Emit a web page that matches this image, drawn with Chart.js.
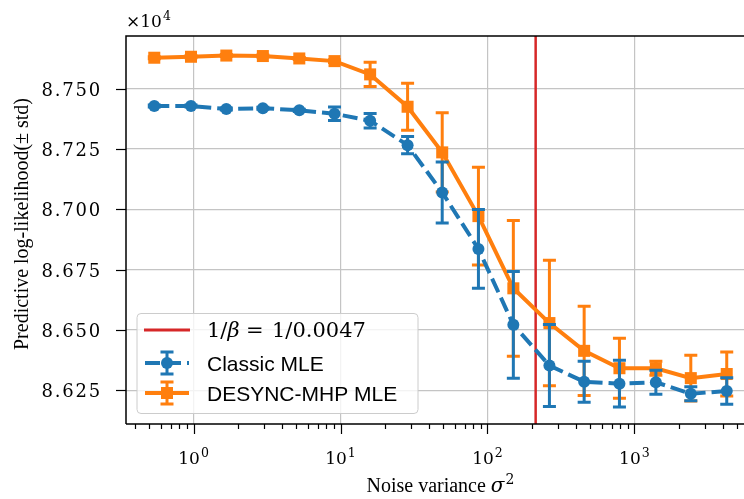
<!DOCTYPE html>
<html>
<head>
<meta charset="utf-8">
<script src="https://cdn.jsdelivr.net/npm/chart.js@4.4.1/dist/chart.umd.min.js"></script>
<style>
  html, body { margin: 0; padding: 0; background: #fff; }
  #wrap { width: 744px; height: 499px; }
</style>
</head>
<body>
<div id="wrap"><canvas id="chart" width="744" height="499"></canvas></div>
<script>
// Noise variance sweep and predictive log-likelihood (mean / std) for both estimators
const noiseVar = [0.54, 0.96, 1.67, 2.96, 5.24, 9.1, 15.9, 28.6, 49.2, 86.8, 150, 264, 455, 791, 1400, 2420, 4250];
const classicMean = [87428, 87428, 87416, 87419, 87410, 87396, 87367, 87266, 87070, 86836, 86522, 86353, 86286, 86278, 86284, 86236, 86248];
const classicStd = [4, 4, 4, 4, 5, 28, 30, 36, 126, 163, 221, 170, 85, 97, 50, 29, 55];
const desyncMean = [87628, 87632, 87637, 87635, 87625, 87614, 87559, 87425, 87236, 86972, 86673, 86529, 86414, 86342, 86342, 86301, 86318];
const desyncStd = [4, 4, 4, 4, 4, 6, 50, 97, 164, 202, 281, 260, 185, 124, 29, 95, 91];

const yTicks = [86250, 86500, 86750, 87000, 87250, 87500];
const xMajor = [1, 10, 100, 1000];
const xMajorExp = ['0', '1', '2', '3'];
const betaLine = 1 / 0.0047;

const BLUE = '#1f77b4';
const ORANGE = '#ff7f0e';
const RED = '#d62728';
const GRID = '#c4c4c4';

const SERIF = '"DejaVu Serif", serif';
const TIMES = '"Liberation Serif", serif';
const SANS = '"Liberation Sans", Arial, sans-serif';

function drawErrorBars(chart, idx) {
  const ds = chart.data.datasets[idx];
  const ctx = chart.ctx;
  const xs = chart.scales.x, ys = chart.scales.y;
  ctx.save();
  ctx.strokeStyle = ds.borderColor;
  ctx.lineWidth = 3;
  ds.data.forEach((p, i) => {
    const px = xs.getPixelForValue(p.x);
    const top = ys.getPixelForValue(p.y + ds.errors[i]);
    const bot = ys.getPixelForValue(p.y - ds.errors[i]);
    ctx.beginPath();
    ctx.moveTo(px, top); ctx.lineTo(px, bot);
    ctx.moveTo(px - 6.5, top); ctx.lineTo(px + 6.5, top);
    ctx.moveTo(px - 6.5, bot); ctx.lineTo(px + 6.5, bot);
    ctx.stroke();
  });
  ctx.restore();
}

// small helper for "base^exp" labels
function drawPow(ctx, base, exp, cx, baseline, size, supSize) {
  ctx.font = size + 'px ' + SERIF;
  const wb = ctx.measureText(base).width;
  ctx.font = supSize + 'px ' + SERIF;
  const we = ctx.measureText(exp).width;
  const x0 = cx - (wb + 1 + we) / 2;
  ctx.textAlign = 'left';
  ctx.font = size + 'px ' + SERIF;
  ctx.fillText(base, x0, baseline);
  ctx.font = supSize + 'px ' + SERIF;
  ctx.fillText(exp, x0 + wb + 1, baseline - 7);
}

function legendMarker(ctx, x, y, color, dashed, square) {
  ctx.save();
  ctx.strokeStyle = color;
  ctx.fillStyle = color;
  ctx.lineWidth = 4;
  if (dashed) ctx.setLineDash([15, 6]);
  ctx.beginPath();
  ctx.moveTo(145, y); ctx.lineTo(189, y);
  ctx.stroke();
  ctx.setLineDash([]);
  ctx.lineWidth = 3;
  ctx.beginPath();
  ctx.moveTo(x, y - 11); ctx.lineTo(x, y + 11);
  ctx.moveTo(x - 6.5, y - 11); ctx.lineTo(x + 6.5, y - 11);
  ctx.moveTo(x - 6.5, y + 11); ctx.lineTo(x + 6.5, y + 11);
  ctx.stroke();
  if (square) {
    ctx.fillRect(x - 6, y - 6, 12, 12);
  } else {
    ctx.beginPath(); ctx.arc(x, y, 6, 0, Math.PI * 2); ctx.fill();
  }
  ctx.restore();
}

const decor = {
  id: 'decor',
  beforeDatasetsDraw(chart) {
    const ctx = chart.ctx, a = chart.chartArea;
    const px = chart.scales.x.getPixelForValue(betaLine);
    ctx.save();
    ctx.strokeStyle = RED;
    ctx.lineWidth = 2.5;
    ctx.beginPath();
    ctx.moveTo(px, a.top); ctx.lineTo(px, a.bottom);
    ctx.stroke();
    ctx.restore();
  },
  beforeDatasetDraw(chart, args) {
    drawErrorBars(chart, args.index);
  },
  afterDraw(chart) {
    const ctx = chart.ctx, a = chart.chartArea;
    const xs = chart.scales.x, ys = chart.scales.y;
    ctx.save();
    ctx.fillStyle = '#000';
    ctx.strokeStyle = '#000';

    // spines
    ctx.lineWidth = 1.5;
    ctx.beginPath();
    ctx.moveTo(a.left, a.bottom); ctx.lineTo(a.left, a.top); ctx.lineTo(a.right, a.top);
    ctx.moveTo(a.left, a.bottom); ctx.lineTo(a.right, a.bottom);
    ctx.stroke();

    // y ticks + labels
    ctx.lineWidth = 1.2;
    ctx.font = '18px ' + SERIF;
    ctx.textAlign = 'right';
    ctx.textBaseline = 'alphabetic';
    ctx.letterSpacing = '1.8px';
    yTicks.forEach(v => {
      const py = Math.round(ys.getPixelForValue(v)) + 0.5;
      ctx.beginPath(); ctx.moveTo(a.left - 10, py); ctx.lineTo(a.left, py); ctx.stroke();
      ctx.fillText((v / 1e4).toFixed(3), 102, py + 6.5);
    });
    ctx.letterSpacing = '0px';

    // x ticks: majors + minors
    const lo = Math.floor(Math.log10(xs.min)), hi = Math.ceil(Math.log10(xs.max));
    for (let e = lo; e <= hi; e++) {
      for (let m = 1; m <= 9; m++) {
        const v = m * Math.pow(10, e);
        if (v < xs.min || v > xs.max) continue;
        const px = Math.round(xs.getPixelForValue(v)) + 0.5;
        const len = m === 1 ? 10 : 5;
        ctx.beginPath(); ctx.moveTo(px, a.bottom); ctx.lineTo(px, a.bottom + len); ctx.stroke();
      }
    }
    xMajor.forEach((v, i) => {
      drawPow(ctx, '10', xMajorExp[i], xs.getPixelForValue(v), 464, 17, 12.5);
    });

    // offset text
    ctx.textAlign = 'left';
    ctx.font = '17px ' + SERIF;
    ctx.fillText('\u00d710', 126, 27);
    const w = ctx.measureText('\u00d710').width;
    ctx.font = '12.5px ' + SERIF;
    ctx.fillText('4', 126 + w + 1, 20);

    // axis titles
    ctx.font = '20px ' + TIMES;
    const t1 = 'Noise variance ';
    const w1 = ctx.measureText(t1).width;
    ctx.font = 'italic 20px ' + SERIF;
    const w2 = ctx.measureText('\u03c3').width;
    const tx = 440 - (w1 + w2 + 9) / 2;
    ctx.font = '20px ' + TIMES;
    ctx.fillText(t1, tx, 492);
    ctx.font = 'italic 20px ' + SERIF;
    ctx.fillText('\u03c3', tx + w1, 492);
    ctx.font = '14px ' + SERIF;
    ctx.fillText('2', tx + w1 + w2 + 1, 484);

    ctx.save();
    ctx.translate(28, 224);
    ctx.rotate(-Math.PI / 2);
    ctx.textAlign = 'center';
    ctx.font = '20px ' + TIMES;
    ctx.fillText('Predictive log-likelihood(\u00b1 std)', 0, 0);
    ctx.restore();

    // legend box
    ctx.fillStyle = 'rgba(255,255,255,0.8)';
    ctx.strokeStyle = '#cccccc';
    ctx.lineWidth = 1;
    ctx.beginPath();
    ctx.roundRect(137, 313.5, 281, 100, 4);
    ctx.fill(); ctx.stroke();

    ctx.strokeStyle = RED;
    ctx.lineWidth = 3;
    ctx.beginPath(); ctx.moveTo(144, 330); ctx.lineTo(190, 330); ctx.stroke();
    legendMarker(ctx, 167, 363, BLUE, true, false);
    legendMarker(ctx, 167, 393, ORANGE, false, true);

    ctx.fillStyle = '#000';
    ctx.textAlign = 'left';
    ctx.font = '21px ' + SERIF;
    ctx.fillText('1/', 207, 337);
    let lx = 207 + ctx.measureText('1/').width;
    ctx.font = 'italic 21px ' + SERIF;
    ctx.fillText('\u03b2', lx, 337);
    ctx.font = '21px ' + SERIF;
    ctx.fillText('=', 246, 337);
    ctx.fillText('1/0.0047', 272, 337);

    ctx.font = '21px ' + SANS;
    ctx.fillText('Classic MLE', 207, 370.5);
    ctx.fillText('DESYNC-MHP MLE', 207, 400.5);
    ctx.restore();
  }
};

const ctx = document.getElementById('chart');
new Chart(ctx, {
  type: 'line',
  data: {
    datasets: [{
      label: 'Classic MLE',
      data: noiseVar.map((x, i) => ({ x: x, y: classicMean[i] })),
      errors: classicStd,
      borderColor: BLUE,
      backgroundColor: BLUE,
      borderWidth: 4,
      borderDash: [15, 6],
      pointStyle: 'circle',
      pointRadius: 6,
      pointBorderWidth: 0,
      tension: 0,
      fill: false
    }, {
      label: 'DESYNC-MHP MLE',
      data: noiseVar.map((x, i) => ({ x: x, y: desyncMean[i] })),
      errors: desyncStd,
      borderColor: ORANGE,
      backgroundColor: ORANGE,
      borderWidth: 4,
      pointStyle: 'rect',
      pointRadius: 8.5,
      pointBorderWidth: 0,
      tension: 0,
      fill: false
    }]
  },
  options: {
    responsive: false,
    animation: false,
    devicePixelRatio: 1,
    layout: { autoPadding: false, padding: { top: 36, left: 0, right: 0, bottom: 0 } },
    plugins: { legend: { display: false }, tooltip: { enabled: false } },
    scales: {
      x: {
        type: 'logarithmic',
        bounds: 'data',
        min: 0.3467,
        max: 5570,
        afterFit: s => { s.height = 75; s.paddingLeft = 0; s.paddingRight = 0; },
        afterBuildTicks: s => { s.ticks = xMajor.map(v => ({ value: v })); },
        ticks: { display: false },
        grid: { color: GRID, lineWidth: 1.2, drawTicks: false },
        border: { display: false }
      },
      y: {
        min: 86111,
        max: 87718,
        afterFit: s => { s.width = 126; },
        afterBuildTicks: s => { s.ticks = yTicks.map(v => ({ value: v })); },
        ticks: { display: false },
        grid: { color: GRID, lineWidth: 1.2, drawTicks: false },
        border: { display: false }
      }
    }
  },
  plugins: [decor]
});
</script>
</body>
</html>
